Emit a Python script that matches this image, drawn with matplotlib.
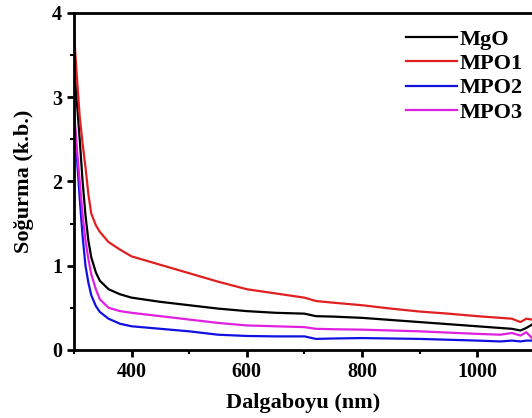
import numpy as np
import matplotlib.pyplot as plt
from matplotlib.ticker import MultipleLocator

# dalga boyu (nm) ve soğurma değerleri
wl = [300, 305, 310, 315, 320, 325, 330, 338, 345, 360, 380, 400, 450, 500, 550,
      600, 650, 700, 720, 750, 800, 850, 900, 950, 1000, 1040, 1060, 1075, 1085, 1095]
mgo = [3.40, 2.95, 2.50, 2.00, 1.60, 1.30, 1.10, 0.92, 0.82, 0.72, 0.66, 0.62, 0.57, 0.53, 0.49,
       0.46, 0.44, 0.43, 0.40, 0.395, 0.38, 0.355, 0.33, 0.305, 0.28, 0.26, 0.25, 0.23, 0.26, 0.30]
mpo1 = [3.76, 3.25, 2.77, 2.45, 2.17, 1.85, 1.62, 1.48, 1.40, 1.28, 1.19, 1.11, 1.01, 0.91, 0.81,
        0.72, 0.67, 0.62, 0.58, 0.56, 0.53, 0.49, 0.455, 0.43, 0.40, 0.38, 0.37, 0.33, 0.37, 0.36]
mpo2 = [2.80, 2.30, 1.80, 1.35, 1.00, 0.80, 0.65, 0.52, 0.45, 0.37, 0.31, 0.28, 0.25, 0.22, 0.18,
        0.165, 0.16, 0.16, 0.13, 0.135, 0.14, 0.135, 0.13, 0.12, 0.11, 0.10, 0.11, 0.10, 0.11, 0.11]
mpo3 = [2.85, 2.40, 2.00, 1.60, 1.30, 1.08, 0.90, 0.72, 0.60, 0.50, 0.46, 0.44, 0.40, 0.36, 0.32,
        0.29, 0.28, 0.27, 0.25, 0.245, 0.24, 0.23, 0.22, 0.205, 0.19, 0.18, 0.20, 0.17, 0.21, 0.14]

plt.rcParams['font.family'] = ['Liberation Serif', 'DejaVu Serif']
plt.rcParams['font.weight'] = 'bold'

fig = plt.figure(figsize=(5.32, 4.18), dpi=100)
ax = fig.add_axes([0.139, 0.163, 0.861, 0.806])

ax.plot(wl, mgo, color='black', lw=1.6, label='MgO')
ax.plot(wl, mpo1, color='#e02020', lw=1.6, label='MPO1')
ax.plot(wl, mpo2, color='#1010e0', lw=1.6, label='MPO2')
ax.plot(wl, mpo3, color='#e020e0', lw=1.6, label='MPO3')

ax.set_xlim(300, 1095)
ax.set_ylim(0, 4)
ax.xaxis.set_major_locator(MultipleLocator(200))
ax.xaxis.set_minor_locator(MultipleLocator(100))
ax.yaxis.set_major_locator(MultipleLocator(1))
ax.yaxis.set_minor_locator(MultipleLocator(0.5))

for s in ['left', 'bottom', 'top']:
    ax.spines[s].set_linewidth(2)
ax.spines['right'].set_visible(False)
ax.tick_params(which='major', direction='out', length=5, width=2, labelsize=14.5)
ax.tick_params(which='minor', direction='out', length=3, width=1.5)

ax.set_xlabel('Dalgaboyu (nm)', fontsize=16, fontweight='bold', labelpad=8)
ax.set_ylabel('Soğurma (k.b.)', fontsize=16, fontweight='bold', labelpad=13)

ax.legend(loc='upper right', frameon=False, fontsize=16, handlelength=2.3,
          handletextpad=0.15, labelspacing=0.17, borderaxespad=0.0,
          bbox_to_anchor=(1.0, 0.978))

fig.savefig('out.png', dpi=100)
